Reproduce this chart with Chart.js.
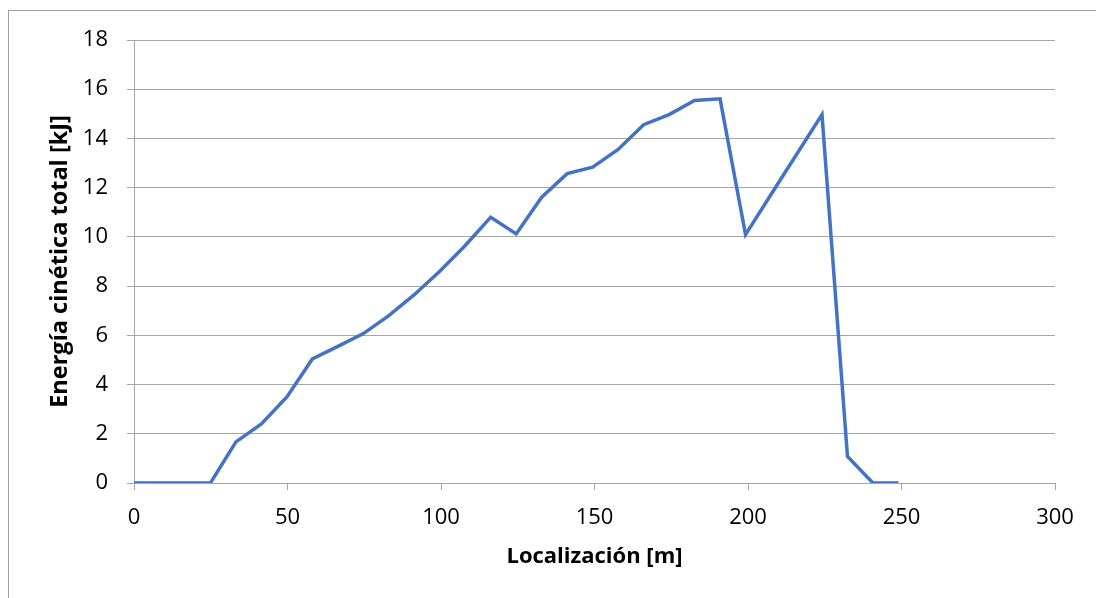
<!DOCTYPE html>
<html lang="es">
<head>
  <meta charset="UTF-8" />
  <title>Energía cinética total</title>
  <script src="https://cdn.jsdelivr.net/npm/chart.js@4.4.1/dist/chart.umd.min.js"></script>
  <style>
    html, body { margin: 0; padding: 0; background: #fff; overflow: hidden; }
    #frame {
      position: absolute; left: 8px; top: 10px;
      width: 1300px; height: 800px;
      border: 1px solid #a0a0a0;
    }
    #wrap { position: absolute; left: 0; top: 0; width: 1096px; height: 598px; }
  </style>
</head>
<body>
  <div id="frame"></div>
  <div id="wrap"><canvas id="chart"></canvas></div>

  <script>
    // datos
    const localizacion = [0, 8.3, 16.6, 24.9, 33.2, 41.5, 49.8, 58.1, 66.4, 74.7, 83, 91.3,
      99.6, 107.9, 116.2, 124.5, 132.8, 141.1, 149.4, 157.7, 166, 174.3, 182.6, 190.9,
      199.2, 207.5, 215.8, 224.1, 232.4, 240.7, 249];
    const energia = [0, 0, 0, 0, 1.67, 2.4, 3.5, 5.04, 5.55, 6.07, 6.8, 7.65,
      8.6, 9.65, 10.8, 10.12, 11.61, 12.57, 12.83, 13.55, 14.56, 14.97, 15.54, 15.61,
      10.09, 11.72, 13.35, 14.97, 1.08, 0, 0];
    const xTicks = [0, 50, 100, 150, 200, 250, 300];
    const yTicks = [0, 2, 4, 6, 8, 10, 12, 14, 16, 18];

    const gridColor = "#a6a6a6";
    const fontFamily = "'Open Sans', sans-serif";

    const points = localizacion.map((x, i) => ({ x: x, y: energia[i] }));

    new Chart(document.getElementById("chart"), {
      type: "scatter",
      data: {
        datasets: [{
          data: points,
          showLine: true,
          borderColor: "#4472c4",
          borderWidth: 3.5,
          pointRadius: 0,
          pointHoverRadius: 0,
          tension: 0,
          borderJoinStyle: "miter"
        }]
      },
      options: {
        responsive: true,
        maintainAspectRatio: false,
        animation: false,
        layout: { padding: { left: 0, right: 41, top: 40, bottom: 0 } },
        plugins: { legend: { display: false }, tooltip: { enabled: false } },
        scales: {
          x: {
            type: "linear",
            min: xTicks[0],
            max: xTicks[xTicks.length - 1],
            afterBuildTicks: s => { s.ticks = xTicks.map(v => ({ value: v })); },
            afterFit: s => { s.height = 115; },
            grid: { drawOnChartArea: false, drawTicks: true, tickLength: 7, color: gridColor },
            border: { color: gridColor },
            ticks: { color: "#000", padding: 15, font: { family: fontFamily, size: 22 }, maxRotation: 0 },
            title: {
              display: true,
              text: "Localización [m]",
              color: "#000",
              font: { family: fontFamily, size: 22, weight: "bold" },
              padding: { top: 0, bottom: 28 }
            }
          },
          y: {
            min: yTicks[0],
            max: yTicks[yTicks.length - 1],
            afterBuildTicks: s => { s.ticks = yTicks.map(v => ({ value: v })); },
            afterFit: s => { s.width = 134; },
            grid: { color: gridColor, tickLength: 7 },
            border: { color: gridColor },
            ticks: { color: "#000", padding: 19, font: { family: fontFamily, size: 22 } },
            title: {
              display: true,
              text: "Energía cinética total [kJ]",
              color: "#000",
              font: { family: fontFamily, size: 23.5, weight: "bold" },
              padding: { top: 46, bottom: 0 }
            }
          }
        }
      }
    });
  </script>
</body>
</html>
